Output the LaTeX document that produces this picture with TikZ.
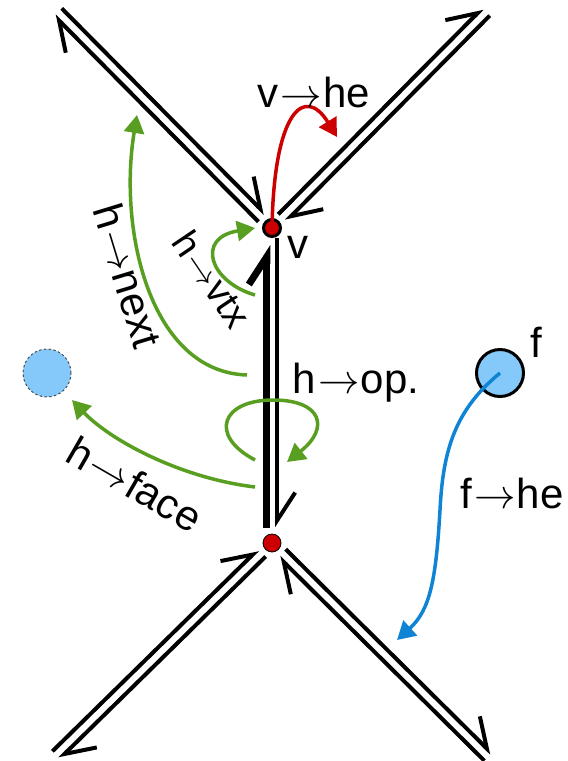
\documentclass[tikz,border=0pt]{standalone}
\usepackage{fontspec}
\setmainfont{Liberation Sans}
\usetikzlibrary{arrows.meta, calc}

\definecolor{vred}{RGB}{204,0,0}
\definecolor{hgreen}{RGB}{88,158,32}
\definecolor{fblue}{RGB}{16,132,212}
\definecolor{facefill}{RGB}{133,201,250}

% half-edge: offset to the left of its direction, barb on the left
\newcommand{\halfedge}[3][]{%
  \draw[halfedge,#1] ($(#2)!2.6pt!90:(#3)$) -- ($(#3)!2.6pt!-90:(#2)$);}
\newcommand{\ptrto}{\kern1pt$\rightarrow$\kern0.5pt}

\begin{document}
\begin{tikzpicture}[x=0.5pt, y=-0.5pt,
    halfedge/.style={line width=2pt, -{Straight Barb[harpoon, angle=66:16.5pt]}},
    fromvtx/.style={shorten <=7pt},
    tovtx/.style={shorten >=7.5pt},
    ptr/.style={line width=1.75pt, -{Triangle[length=9pt, width=10pt]}},
    vertex/.style={circle, fill=vred, draw=black, inner sep=0pt},
    face/.style={circle, fill=facefill, inner sep=0pt},
    lbl/.style={font=\fontsize{21pt}{25pt}\selectfont, inner sep=0pt}]

\useasboundingbox (0,0) rectangle (568,761);

% vertices, faces and free edge ends
\node[vertex, minimum size=8.5pt, line width=1.5pt] (v) at (272,228) {};
\node[vertex, minimum size=9pt, line width=0.4pt] (u) at (272,543) {};
\node[face, draw=black, line width=1.5pt, minimum size=23.5pt] (f) at (500,373) {};
\node[face, draw=black!70, line width=0.5pt, dash pattern=on 1.2pt off 1.2pt, minimum size=24pt] (g) at (47,373) {};
\coordinate (tl) at (58,12);
\coordinate (tr) at (486,12);
\coordinate (bl) at (56,755);
\coordinate (br) at (488,757);

% half-edges
\halfedge[fromvtx]{v.center}{tl}
\halfedge[tovtx]{tl}{v.center}
\halfedge[fromvtx]{v.center}{tr}
\halfedge[tovtx]{tr}{v.center}
\halfedge[fromvtx]{u.center}{bl}
\halfedge[tovtx]{bl}{u.center}
\halfedge[fromvtx]{u.center}{br}
\halfedge[tovtx]{br}{u.center}
\halfedge[line width=3.5pt, shorten <=7.5pt, shorten >=8.5pt]{u.center}{v.center}
\halfedge[shorten <=5pt, shorten >=8pt]{v.center}{u.center}

% pointers
\draw[ptr, hgreen] (247,375) .. controls (150,372) and (118,230) .. (137,115);
\draw[ptr, hgreen] (255,295) .. controls (210,282) and (195,238) .. (255,228);
\draw[ptr, hgreen] (255,460) .. controls (208,435) and (222,400) .. (273,400)
  .. controls (322,400) and (330,428) .. (287,462);
\draw[ptr, hgreen] (255,487) .. controls (180,478) and (110,440) .. (72,400);
\draw[ptr, vred] (v.center) .. controls (274,110) and (305,85) .. (337,137);
\draw[ptr, fblue] (f.center) .. controls (455,410) and (443,450) .. (440,510)
  .. controls (436,580) and (430,610) .. (397,640);

% labels
\node[lbl, anchor=base] (lvhe) at (314,107) {v\ptrto he};
\node[lbl, anchor=base] (lv) at (298,258) {v};
\node[lbl, anchor=base] (lf) at (536,357) {f};
\node[lbl, anchor=base] (lfhe) at (512,508) {f\ptrto he};
\node[lbl, anchor=base] (lop) at (356,393) {h\ptrto op.};
\node[lbl, rotate=-73] (lnext) at (128,276) {h\ptrto next};
\node[lbl, rotate=-56, font=\fontsize{19pt}{23pt}\selectfont] (lvtx) at (212,279) {h\ptrto vtx};
\node[lbl, rotate=-30] (lface) at (135,484) {h\ptrto face};
\end{tikzpicture}
\end{document}
